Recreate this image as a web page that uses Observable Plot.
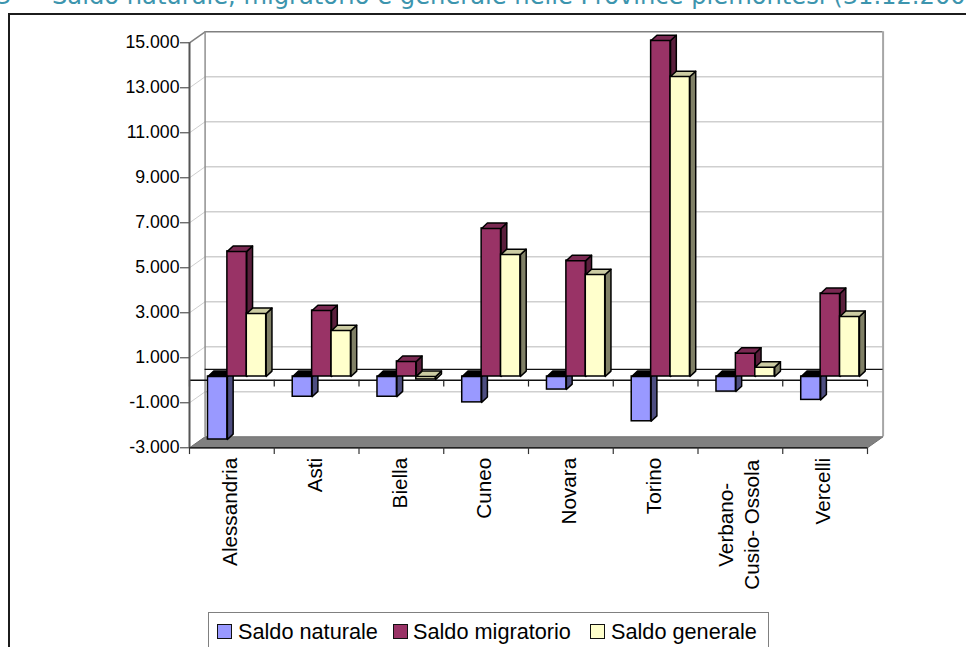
<!DOCTYPE html>
<html lang="it">
<head>
<meta charset="utf-8">
<title>Saldo naturale, migratorio e generale</title>
<script src="https://cdn.jsdelivr.net/npm/d3@7"></script>
<script src="https://cdn.jsdelivr.net/npm/@observablehq/plot@0.6"></script>
<style>
  html, body { margin: 0; padding: 0; background: #fff; overflow: hidden; }
  #page { position: relative; width: 966px; height: 647px; overflow: hidden; font-family: "Liberation Sans", Arial, sans-serif; }
  #heading { position: absolute; left: 0; top: -17.5px; white-space: pre; font-family: "DejaVu Sans", Verdana, sans-serif; font-size: 24.2px; line-height: 26px; color: #3d95ae; }
  #heading .num { position: absolute; left: -4px; top: 0; }
  #heading .txt { position: absolute; left: 52px; top: 0; }
  #frame { position: absolute; left: 8px; top: 13px; width: 1000px; height: 700px; border: 2px solid #1c1c1c; box-sizing: border-box; }
  #chart { position: absolute; left: 0; top: 0; }
  #legend { position: absolute; left: 208px; top: 611.5px; width: 561px; height: 60px; border: 1.5px solid #808080; box-sizing: border-box; background: #fff; }
  #legend .sw { position: absolute; top: 11px; width: 15px; height: 15px; border: 1.5px solid #111; box-sizing: border-box; }
  #legend .lb { position: absolute; top: 5px; font-size: 21.7px; line-height: 27px; color: #000; white-space: pre; }
</style>
</head>
<body>
<div id="page">
  <div id="heading"><span class="num">3</span><span class="txt">Saldo naturale, migratorio e generale nelle Province piemontesi (31.12.200</span></div>
  <div id="frame"></div>
  <div id="chart"></div>
  <div id="legend"></div>
</div>
<script>
// Province labels and the three balances per province
const province = ["Alessandria", "Asti", "Biella", "Cuneo", "Novara", "Torino", "Verbano-\nCusio- Ossola", "Vercelli"];
const saldoNaturale = [-2800, -900, -900, -1150, -580, -1990, -670, -1040];
const saldoMigratorio = [5560, 2930, 670, 6580, 5150, 14930, 1035, 3690];
const saldoGenerale = [2800, 2040, -130, 5420, 4530, 13330, 415, 2670];

const seriesNames = ["Saldo naturale", "Saldo migratorio", "Saldo generale"];
const seriesValues = [saldoNaturale, saldoMigratorio, saldoGenerale];
const frontColors = ["#9999ff", "#993366", "#ffffcc"];
const sideColors = ["#4d4d80", "#5a1f3c", "#808066"];
const capColors = ["#000000", "#7a2952", "#cccca3"];

const yTicks = d3.range(-3000, 15001, 2000);
const xTicks = d3.range(0, province.length + 1);

const thousands = d3.formatLocale({decimal: ",", thousands: ".", grouping: [3], currency: ["", ""], minus: "-"}).format(",.0f");

// Extrusion of the chart box and of each bar, in data units
const wallDx = 0.184, wallDy = 490;
const barDx = 0.068, barDy = 240;
const barOffset = 0.218, barWidth = 0.229;
const tickLen = 300;

// One closed polygon per bar for a side or cap face
function sideFaces(values, s) {
  return values.flatMap((v, i) => {
    const x = i + barOffset + barWidth * (s + 1);
    const hi = Math.max(v, 0), lo = Math.min(v, 0);
    return [[x, lo], [x + barDx, lo + barDy], [x + barDx, hi + barDy], [x, hi]].map(([px, py]) => ({px, py, i}));
  });
}
function capFaces(values, s) {
  return values.flatMap((v, i) => {
    const x0 = i + barOffset + barWidth * s, x1 = x0 + barWidth;
    const hi = Math.max(v, 0);
    return [[x0, hi], [x0 + barDx, hi + barDy], [x1 + barDx, hi + barDy], [x1, hi]].map(([px, py]) => ({px, py, i}));
  });
}

// Layers are stacked back to front: walls, floor, axes, then the bars series by series
const n = province.length;
const polygon = {x: "px", y: "py", z: "i", curve: "linear-closed"};
const barMarks = seriesValues.flatMap((values, s) => [
  Plot.rect(values, {
    x1: (d, i) => i + barOffset + barWidth * s,
    x2: (d, i) => i + barOffset + barWidth * (s + 1),
    y1: () => 0, y2: d => d, dy: -3.8, inset: 0,
    fill: frontColors[s], stroke: "#000", strokeWidth: 1.5
  }),
  Plot.line(sideFaces(values, s), {...polygon, dy: -3.8, fill: sideColors[s], stroke: "#000", strokeWidth: 1.5}),
  Plot.line(capFaces(values, s), {...polygon, dy: -3.8, fill: capColors[s], stroke: "#000", strokeWidth: 1.5})
]);

const floor = [[0, -3000], [wallDx, -3000 + wallDy], [n + wallDx, -3000 + wallDy], [n, -3000]].map(([px, py]) => ({px, py, i: 0}));
const gridTicks = yTicks.slice(1, -1);

const chart = Plot.plot({
  width: 966, height: 647,
  marginLeft: 189, marginRight: 99, marginTop: 42.3, marginBottom: 199.7,
  style: {fontFamily: "Liberation Sans, Arial, sans-serif", background: "transparent", overflow: "visible"},
  x: {domain: [0, n], axis: null},
  y: {domain: [-3000, 15000], axis: null},
  marks: [
    // Back wall and side wall gridlines
    Plot.ruleY(gridTicks.map(v => v + wallDy), {x1: wallDx, x2: n + wallDx, stroke: "#cfcfcf", strokeWidth: 1.5}),
    Plot.link(gridTicks, {x1: 0, y1: d => d, x2: wallDx, y2: d => d + wallDy, stroke: "#cfcfcf", strokeWidth: 1}),
    Plot.ruleY([15000 + wallDy], {x1: wallDx, x2: n + wallDx, stroke: "#808080", strokeWidth: 1.5}),
    Plot.link([15000], {x1: 0, y1: d => d, x2: wallDx, y2: d => d + wallDy, stroke: "#808080", strokeWidth: 1.5}),
    Plot.ruleX([wallDx], {y1: -3000 + wallDy, y2: 15000 + wallDy, stroke: "#909090", strokeWidth: 1.5}),
    Plot.ruleX([n + wallDx], {y1: -3000 + wallDy, y2: 15000 + wallDy, stroke: "#a6a6a6", strokeWidth: 2}),
    Plot.ruleY([wallDy], {x1: wallDx, x2: n + wallDx, stroke: "#111", strokeWidth: 1.2}),
    // Floor
    Plot.line(floor, {...polygon, fill: "#808080", stroke: "#707070", strokeWidth: 1}),
    // Category axis at zero and along the floor edge
    Plot.ruleY([0], {x1: 0, x2: n, stroke: "#111", strokeWidth: 1.5}),
    Plot.ruleX(xTicks, {y1: 0, y2: -tickLen, stroke: "#222", strokeWidth: 1.2}),
    Plot.ruleY([-3000], {x1: 0, x2: n, stroke: "#222", strokeWidth: 1.5}),
    Plot.ruleX(xTicks, {y1: -3000, y2: -3000 - tickLen, stroke: "#333", strokeWidth: 1.2}),
    // Value axis
    Plot.axisY({
      ticks: yTicks, tickFormat: thousands, tickSize: 9, tickPadding: 1,
      fontSize: 17.7, label: null, stroke: "#333", color: "#000"
    }),
    Plot.ruleX([0], {stroke: "#555", strokeWidth: 2}),
    ...barMarks,
    // Province names: single line labels hang from the floor edge, the two line one is centred
    Plot.text(province.filter(p => !p.includes("\n")), {
      x: p => province.indexOf(p) + 0.5, y: () => -3000, text: d => d,
      rotate: -90, textAnchor: "end", lineAnchor: "middle", dx: -1.5, dy: 10,
      fontSize: 20.7, fill: "#000"
    }),
    Plot.text(province.filter(p => p.includes("\n")), {
      x: p => province.indexOf(p) + 0.5, y: () => -3000, text: d => d,
      rotate: -90, textAnchor: "middle", lineAnchor: "middle", lineHeight: 1.29, dx: -3, dy: 77,
      fontSize: 20.7, fill: "#000"
    })
  ]
});
document.getElementById("chart").append(chart);

// Legend row below the plot
const legend = document.getElementById("legend");
const swatchLeft = [8, 184, 381];
const labelLeft = [29, 204, 402];
seriesNames.forEach((name, s) => {
  const sw = document.createElement("span");
  sw.className = "sw"; sw.style.left = swatchLeft[s] + "px"; sw.style.background = frontColors[s];
  const lb = document.createElement("span");
  lb.className = "lb"; lb.style.left = labelLeft[s] + "px"; lb.textContent = name;
  legend.append(sw, lb);
});
</script>
</body>
</html>
